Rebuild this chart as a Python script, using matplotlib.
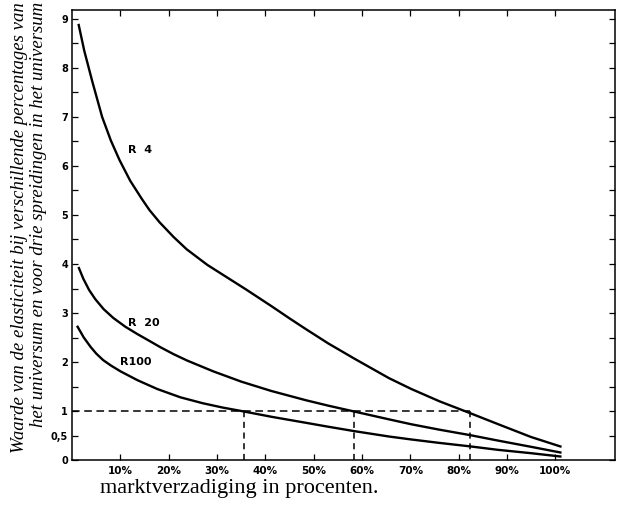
import numpy as np
from matplotlib import pyplot as plt
from matplotlib.ticker import FixedLocator

# curve R 4
x_r4 = [1.3, 2.5, 4.2, 6.2, 8.0, 9.8, 12.0, 14.4, 16, 18.1, 21, 23.7, 28, 32, 36, 41.4,
        45, 48.4, 53, 58.4, 62, 65.6, 70.2, 76, 82.3, 89, 95, 101.3]
y_r4 = [8.9, 8.35, 7.71, 7.0, 6.52, 6.12, 5.70, 5.33, 5.10, 4.85, 4.55, 4.30, 3.98, 3.73, 3.48, 3.13,
        2.89, 2.67, 2.38, 2.07, 1.87, 1.67, 1.45, 1.20, 0.96, 0.70, 0.47, 0.27]

# curve R 20
x_r20 = [1.3, 2.3, 3.5, 4.8, 6.5, 8.5, 11, 13.5, 16, 18.3, 21, 23.8, 29.2, 35, 41.2, 48.4, 53,
         58.4, 65.6, 70.2, 76, 82.3, 88, 95, 101.3]
y_r20 = [3.94, 3.70, 3.47, 3.28, 3.08, 2.90, 2.72, 2.57, 2.43, 2.30, 2.16, 2.03, 1.81, 1.60, 1.41, 1.22, 1.11,
         0.99, 0.83, 0.73, 0.62, 0.51, 0.40, 0.27, 0.15]

# curve R100
x_r100 = [1.0, 2.4, 3.8, 5, 6.4, 8, 10, 13.5, 17.6, 22.4, 27, 31.2, 35.6, 41.4, 48.4, 53,
          58.4, 65.6, 70.2, 76, 82.3, 88, 95, 101.3]
y_r100 = [2.74, 2.5, 2.31, 2.17, 2.04, 1.93, 1.81, 1.63, 1.45, 1.28, 1.16, 1.07, 0.99, 0.88, 0.76, 0.68,
          0.59, 0.48, 0.42, 0.35, 0.28, 0.21, 0.14, 0.07]

# snijpunten met elasticiteit 1
snij_x = [35.6, 58.4, 82.3]
snij_y = 1

x_ticks = [10, 20, 30, 40, 50, 60, 70, 80, 90, 100]
x_labels = ['10%', '20%', '30%', '40%', '50%', '60%', '70%', '80%', '90%', '100%']
y_ticks = [0, 0.5, 1, 2, 3, 4, 5, 6, 7, 8, 9]
y_labels = ['0', '0,5', '1', '2', '3', '4', '5', '6', '7', '8', '9']


def graficar():
    fig = plt.figure(figsize=(6.17, 5.05), dpi=100)
    ax = fig.add_axes([0.117, 0.089, 0.88, 0.891])

    for xs, ys in [(x_r4, y_r4), (x_r20, y_r20), (x_r100, y_r100)]:
        ax.plot(xs, ys, color='black', lw=1.7, solid_capstyle='butt', solid_joinstyle='round')

    ax.plot([0, snij_x[-1]], [snij_y, snij_y], color='black', lw=1.1, ls=(0, (5, 3)))
    for sx in snij_x:
        ax.plot([sx, sx], [0, snij_y], color='black', lw=1.1, ls=(0, (4, 3)))

    ax.text(11.6, 6.33, 'R  4', fontsize=8, fontweight='bold', va='center')
    ax.text(11.6, 2.80, 'R  20', fontsize=8, fontweight='bold', va='center')
    ax.text(9.9, 2.0, 'R100', fontsize=8, fontweight='bold', va='center')

    ax.set_xlim(0, 112.4)
    ax.set_ylim(0, 9.18)
    ax.set_xticks(x_ticks)
    ax.set_xticklabels(x_labels, fontsize=7.5, fontweight='bold')
    ax.set_yticks(y_ticks)
    ax.set_yticklabels(y_labels, fontsize=7, fontweight='bold')
    ax.yaxis.set_minor_locator(FixedLocator(np.arange(1.5, 9, 1.0)))
    ax.tick_params(which='both', direction='in', top=True, right=True, length=4, width=0.9)
    ax.tick_params(axis='x', pad=4)
    ax.tick_params(axis='y', pad=3)
    for s in ax.spines.values():
        s.set_linewidth(1.1)

    # as-titel in twee regels, bovenaan uitgelijnd
    fig.text(0.032, 0.996, 'Waarde van de elasticiteit bij verschillende percentages van',
             rotation=90, va='top', ha='center', fontsize=13.5, style='italic',
             family='Liberation Serif')
    fig.text(0.062, 0.996, 'het universum en voor drie spreidingen in het universum',
             rotation=90, va='top', ha='center', fontsize=13.5, style='italic',
             family='Liberation Serif')
    fig.text(0.162, 0.033, 'marktverzadiging in procenten.', fontsize=16,
             family='Liberation Serif', va='center')

    fig.savefig('out.png', dpi=100)


def main():
    graficar()


if __name__ == '__main__':
    main()
